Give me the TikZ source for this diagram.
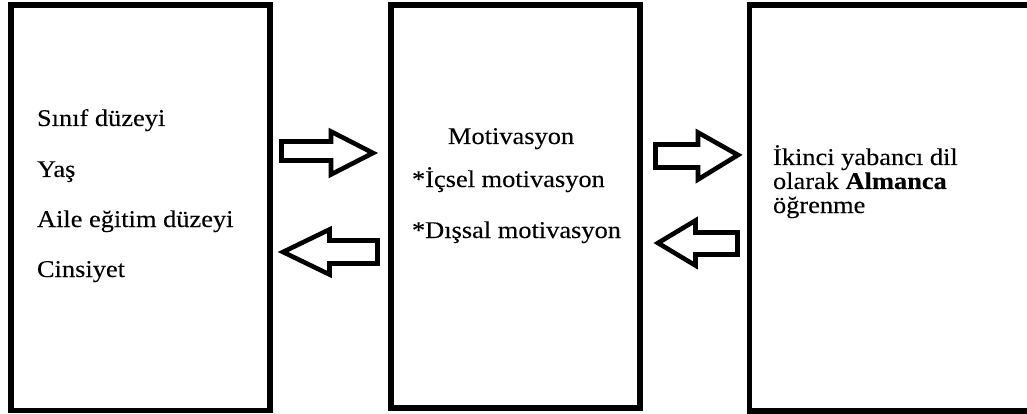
\documentclass[tikz,border=0pt]{standalone}
\usepackage{fontspec}
\setmainfont{Liberation Serif}[FakeStretch=1.1,FakeBold=0.15]
\begin{document}
\begin{tikzpicture}[x=1pt,y=-1pt,
  bigbox/.style={draw=black,line width=5.5pt,fill=none,inner sep=0pt,rectangle},
  txt/.style={anchor=base west,inner sep=0pt,outer sep=0pt,font=\fontsize{24}{26}\selectfont,text=black},
  blockarrow/.style={draw=black,line width=4.6pt,line join=miter,fill=white}]
\useasboundingbox (0,0) rectangle (1027,414);
\clip (0,0) rectangle (1027,414);
\fill[white] (0,0) rectangle (1027,414);
% boxes
\node[bigbox,minimum width=259pt,minimum height=405.5pt] (left) at (140.5,207.75) {};
\node[bigbox,minimum width=249pt,minimum height=403pt] (mid) at (515.5,206.5) {};
\node[bigbox,minimum width=290.5pt,minimum height=406pt] (right) at (894.75,208) {};
% left texts
\node[txt] (l1) at (37,126) {Sınıf düzeyi};
\node[txt] (l2) at (37,177) {Yaş};
\node[txt] (l3) at (37,227) {Aile eğitim düzeyi};
\node[txt] (l4) at (37,277) {Cinsiyet};
% middle texts
\node[txt] (m1) at (448,144) {Motivasyon};
\node[txt] (m2) at (412,187) {*İçsel motivasyon};
\node[txt] (m3) at (412,238) {*Dışsal motivasyon};
% right texts
\node[txt] (r1) at (773,165) {İkinci yabancı dil};
\node[txt] (r2) at (773,189) {olarak \textbf{Almanca}};
\node[txt] (r3) at (773,213) {öğrenme};
% block arrows
\draw[blockarrow] (281.5,141.5) -- (331,141.5) -- (331,131.5) -- (373,153) -- (331,174.5) -- (331,160.5) -- (281.5,160.5) -- cycle;
\draw[blockarrow] (377.5,240.5) -- (329.5,240.5) -- (329.5,229.5) -- (283,252) -- (329.5,274.5) -- (329.5,263.5) -- (377.5,263.5) -- cycle;
\draw[blockarrow] (655.5,144.5) -- (698,144.5) -- (698,132.5) -- (738,155) -- (698,179.5) -- (698,167.5) -- (655.5,167.5) -- cycle;
\draw[blockarrow] (737.5,232.5) -- (695.5,232.5) -- (695.5,220.5) -- (658,243) -- (695.5,265.5) -- (695.5,254.5) -- (737.5,254.5) -- cycle;
\end{tikzpicture}
\end{document}
